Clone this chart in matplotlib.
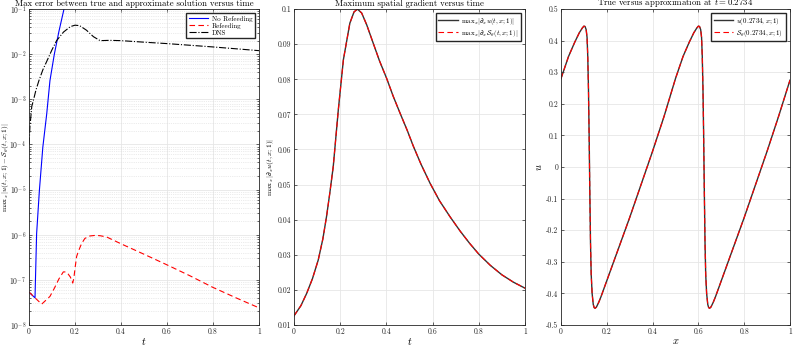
import matplotlib
matplotlib.use("Agg")
import matplotlib.pyplot as plt
from matplotlib.ticker import LogLocator, NullFormatter

plt.rcParams['font.family'] = 'serif'
plt.rcParams['font.serif'] = ['cmr10', 'DejaVu Serif']
plt.rcParams['mathtext.fontset'] = 'cm'
plt.rcParams['axes.unicode_minus'] = False
plt.rcParams['axes.formatter.use_mathtext'] = True

# panel 1: max error versus time (log scale)
t_noref = [0.0, 0.026, 0.033, 0.045, 0.060, 0.077, 0.091, 0.110, 0.130, 0.152]
err_noref = [5.3e-8, 4.0e-8, 1.05e-6, 9.5e-6, 8.7e-5, 4.8e-4, 2.6e-3, 1.0e-2, 3.2e-2, 1.0e-1]

t_ref = [0.0, 0.026, 0.055, 0.075, 0.091, 0.110, 0.130, 0.149, 0.160, 0.170, 0.180,
         0.190, 0.195, 0.200, 0.207, 0.214, 0.228, 0.243, 0.265, 0.290, 0.310, 0.338,
         0.400, 0.500, 0.600, 0.700, 0.800, 0.900, 1.000]
err_ref = [5.4e-8, 4.0e-8, 2.9e-8, 3.6e-8, 4.3e-8, 6.5e-8, 1.05e-7, 1.5e-7, 1.5e-7, 1.35e-7, 1.15e-7,
           8.5e-8, 1.1e-7, 1.8e-7, 3.3e-7, 4.2e-7, 6.3e-7, 8.3e-7, 9.4e-7, 9.7e-7, 9.5e-7, 8.9e-7,
           6.3e-7, 3.7e-7, 2.15e-7, 1.23e-7, 6.8e-8, 4.0e-8, 2.4e-8]

t_dns = [0.0, 0.004, 0.012, 0.019, 0.030, 0.043, 0.060, 0.080, 0.099, 0.120, 0.150, 0.180,
         0.200, 0.220, 0.250, 0.280, 0.309, 0.350, 0.400, 0.500, 0.600, 0.700, 0.800, 0.900, 1.000]
err_dns = [1.0e-4, 2.5e-4, 7.0e-4, 9.5e-4, 1.6e-3, 2.6e-3, 4.5e-3, 7.5e-3, 1.23e-2, 2.0e-2, 3.1e-2, 4.1e-2,
           4.4e-2, 4.3e-2, 3.4e-2, 2.45e-2, 2.0e-2, 2.03e-2, 2.0e-2, 1.85e-2, 1.72e-2, 1.58e-2, 1.45e-2, 1.32e-2, 1.2e-2]

# panel 2: maximum spatial gradient
t_grad = [0.0, 0.030, 0.055, 0.080, 0.105, 0.125, 0.141, 0.155, 0.170, 0.192, 0.214, 0.242,
          0.260, 0.275, 0.293, 0.315, 0.343, 0.370, 0.401, 0.430, 0.459, 0.490, 0.517, 0.550,
          0.589, 0.630, 0.675, 0.720, 0.760, 0.800, 0.850, 0.900, 0.950, 1.000]
grad_true = [0.0126, 0.0155, 0.0190, 0.0232, 0.0285, 0.0345, 0.0409, 0.0475, 0.0551, 0.0713, 0.0856, 0.0960,
             0.0992, 0.1000, 0.0989, 0.0955, 0.0903, 0.0853, 0.0803, 0.0751, 0.0704, 0.0655, 0.0609, 0.0558,
             0.0504, 0.0454, 0.0409, 0.0367, 0.0333, 0.0302, 0.0270, 0.0243, 0.0222, 0.0205]
grad_approx = list(grad_true)

# panel 3: solution at t = 0.2734
x_sol = [0.000, 0.033, 0.060, 0.080, 0.093, 0.100, 0.105, 0.110, 0.114, 0.117, 0.120, 0.123,
         0.126, 0.129, 0.132, 0.136, 0.141, 0.145, 0.149, 0.155, 0.165, 0.175, 0.200, 0.250,
         0.300, 0.350, 0.400, 0.450, 0.500, 0.533, 0.560, 0.580, 0.593, 0.600, 0.605, 0.610,
         0.614, 0.617, 0.620, 0.623, 0.626, 0.629, 0.632, 0.636, 0.641, 0.645, 0.649, 0.655,
         0.665, 0.675, 0.700, 0.750, 0.800, 0.850, 0.900, 0.950, 1.000]
u_true = [0.280, 0.350, 0.395, 0.425, 0.440, 0.446, 0.445, 0.435, 0.410, 0.350, 0.250, 0.100,
          -0.080, -0.240, -0.340, -0.400, -0.435, -0.445, -0.447, -0.443, -0.428, -0.410, -0.360, -0.260,
          -0.160, -0.055, 0.050, 0.160, 0.280, 0.350, 0.395, 0.425, 0.440, 0.446, 0.445, 0.435,
          0.410, 0.350, 0.250, 0.100, -0.080, -0.240, -0.340, -0.400, -0.435, -0.445, -0.447, -0.443,
          -0.428, -0.410, -0.360, -0.260, -0.160, -0.055, 0.050, 0.160, 0.275]
u_approx = list(u_true)

fig = plt.figure(figsize=(7.93, 3.46), dpi=100)
ax1 = fig.add_axes([0.0366, 0.0607, 0.290, 0.913])
ax2 = fig.add_axes([0.3707, 0.0607, 0.2913, 0.913])
ax3 = fig.add_axes([0.7074, 0.0607, 0.2888, 0.913])

lw = 0.8
tick_fs = 5.5
title_fs = 6.3
lab_fs = 7.5
leg_fs = 5.0
legend_kw = dict(loc='upper right', fontsize=leg_fs, handlelength=2.8, frameon=True,
                 fancybox=False, edgecolor='#262626', framealpha=1, borderpad=0.35,
                 labelspacing=0.15, handletextpad=0.5, borderaxespad=0.6)


def style(ax):
    ax.tick_params(direction='in', which='both', top=True, right=True, pad=2,
                   labelsize=tick_fs, length=2.5, width=0.5, colors='#262626')
    ax.tick_params(which='minor', length=1.5)
    for s in ax.spines.values():
        s.set_linewidth(0.6)
        s.set_color('#262626')
    ax.grid(True, which='major', color='#e6e6e6', linewidth=0.6)
    ax.set_axisbelow(True)


# panel 1
ax1.semilogy(t_noref, err_noref, '-', color='blue', lw=lw, label='No Refeeding')
ax1.semilogy(t_ref, err_ref, '--', color='red', lw=lw, dashes=(5, 3), label='Refeeding')
ax1.semilogy(t_dns, err_dns, '-.', color='black', lw=lw, label='DNS')
ax1.set_xlim(0, 1)
ax1.set_ylim(1e-8, 1e-1)
style(ax1)
ax1.yaxis.set_minor_locator(LogLocator(base=10, subs=range(2, 10), numticks=20))
ax1.yaxis.set_minor_formatter(NullFormatter())
ax1.grid(True, which='minor', axis='y', color='#d9d9d9', linestyle=':', linewidth=0.5)
ax1.set_xticks([0, 0.2, 0.4, 0.6, 0.8, 1])
ax1.set_xticklabels(['0', '0.2', '0.4', '0.6', '0.8', '1'])
ax1.set_title('Max error between true and approximate solution versus time',
              fontsize=title_fs, pad=2, x=0.46)
ax1.set_xlabel('$t$', fontsize=lab_fs, labelpad=0)
ax1.set_ylabel(r'$\mathrm{max}_x\,|u(t,x;1)-\mathcal{S}_\theta(t,x;1)|$', fontsize=5.3)
ax1.yaxis.set_label_coords(-0.078, 0.5)
ax1.legend(**legend_kw)

# panel 2
ax2.plot(t_grad, grad_true, '-', color='#333333', lw=lw + 0.2,
         label=r'$\mathrm{max}_x|\partial_x u(t,x;1)|$')
ax2.plot(t_grad, grad_approx, '--', color='red', lw=lw, dashes=(5, 3),
         label=r'$\mathrm{max}_x|\partial_x \mathcal{S}_\theta(t,x;1)|$')
ax2.set_xlim(0, 1)
ax2.set_ylim(0.01, 0.1)
style(ax2)
ax2.set_xticks([0, 0.2, 0.4, 0.6, 0.8, 1])
ax2.set_xticklabels(['0', '0.2', '0.4', '0.6', '0.8', '1'])
yt2 = [0.01, 0.02, 0.03, 0.04, 0.05, 0.06, 0.07, 0.08, 0.09, 0.1]
ax2.set_yticks(yt2)
ax2.set_yticklabels(['0.01', '0.02', '0.03', '0.04', '0.05', '0.06', '0.07', '0.08', '0.09', '0.1'])
ax2.set_title('Maximum spatial gradient versus time', fontsize=title_fs, pad=2)
ax2.set_xlabel('$t$', fontsize=lab_fs, labelpad=0)
ax2.set_ylabel(r'$\mathrm{max}_x\,|\partial_x u(t,x;1)|$', fontsize=5.3, labelpad=1)
ax2.legend(**legend_kw)

# panel 3
ax3.plot(x_sol, u_true, '-', color='#333333', lw=lw + 0.2, label=r'$u(0.2734,x;1)$')
ax3.plot(x_sol, u_approx, '--', color='red', lw=lw, dashes=(5, 3),
         label=r'$\mathcal{S}_\theta(0.2734,x;1)$')
ax3.set_xlim(0, 1)
ax3.set_ylim(-0.5, 0.5)
style(ax3)
ax3.set_xticks([0, 0.2, 0.4, 0.6, 0.8, 1])
ax3.set_xticklabels(['0', '0.2', '0.4', '0.6', '0.8', '1'])
yt3 = [-0.5, -0.4, -0.3, -0.2, -0.1, 0, 0.1, 0.2, 0.3, 0.4, 0.5]
ax3.set_yticks(yt3)
ax3.set_yticklabels(['-0.5', '-0.4', '-0.3', '-0.2', '-0.1', '0', '0.1', '0.2', '0.3', '0.4', '0.5'])
ax3.set_title(r'True versus approximation at $t = 0.2734$', fontsize=title_fs, pad=1)
ax3.set_xlabel('$x$', fontsize=lab_fs, labelpad=0)
ax3.set_ylabel('$u$', fontsize=lab_fs, labelpad=1)
ax3.legend(**legend_kw)

fig.savefig('out.png', dpi=100)
